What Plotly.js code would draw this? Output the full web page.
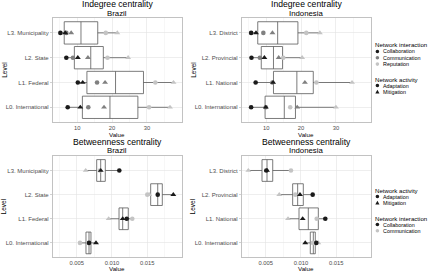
<!DOCTYPE html>
<html>
<head>
<meta charset="utf-8">
<script src="https://cdn.plot.ly/plotly-3.0.1.min.js"></script>
<style>
  html, body { margin: 0; padding: 0; background: #ffffff; }
  #chart { width: 434px; height: 271px; }
</style>
</head>
<body>
<div id="chart"></div>
<script>
// ---- Levels (bottom to top) ----
const levelsBrazil = ['L0. International', 'L1. Federal', 'L2. State', 'L3. Municipality'];
const levelsIndonesia = ['L0. International', 'L1. National', 'L2. Provincial', 'L3. District'];

// ---- Indegree centrality, Brazil (values per level L0..L3) ----
const inBR_collabAdapt = [7.3, 10.2, 6.9, 5.2];
const inBR_collabMitig = [10.9, 11.6, 10.2, 6.6];
const inBR_commAdapt   = [13.2, 15.7, 8.8, 6.9];
const inBR_commMitig   = [17.7, 18.0, 13.1, 8.3];
const inBR_repAdapt    = [30.6, 32.4, 18.7, 18.2];
const inBR_repMitig    = [36.6, 37.6, 24.6, 21.5];
const inBR_q1  = [11.5, 12.8, 9.2, 6.3];
const inBR_med = [19.4, 21.0, 13.9, 11.1];
const inBR_q3  = [27.4, 29.0, 17.5, 15.9];

// ---- Indegree centrality, Indonesia ----
const inID_collabAdapt = [5.7, 7.0, 5.8, 5.7];
const inID_collabMitig = [9.9, 12.0, 9.5, 7.1];
const inID_commAdapt   = [9.9, 11.8, 8.2, 9.2];
const inID_commMitig   = [18.9, 21.1, 13.6, 11.8];
const inID_repAdapt    = [16.9, 24.4, 14.9, 21.5];
const inID_repMitig    = [30.0, 34.6, 20.3, 25.4];
const inID_q1  = [9.7, 12.1, 8.6, 7.6];
const inID_med = [15.2, 18.8, 12.1, 13.3];
const inID_q3  = [18.4, 23.5, 14.7, 19.1];

// ---- Betweenness centrality, Brazil ----
const btBR_collabAdapt = [0.00675, 0.01210, 0.01650, 0.01105];
const btBR_collabMitig = [0.00774, 0.01153, 0.01871, 0.00841];
const btBR_commAdapt   = [0.00547, 0.01289, 0.01502, 0.00830];
const btBR_commMitig   = [0.00675, 0.00954, 0.01530, 0.00628];
const btBR_q1  = [0.00632, 0.01101, 0.01550, 0.00784];
const btBR_med = [0.00675, 0.01153, 0.01650, 0.00841];
const btBR_q3  = [0.00703, 0.01232, 0.01715, 0.00906];

// ---- Betweenness centrality, Indonesia ----
const btID_collabAdapt = [0.01218, 0.01346, 0.01167, 0.00509];
const btID_collabMitig = [0.01062, 0.01025, 0.00987, 0.00519];
const btID_commAdapt   = [0.01171, 0.01224, 0.00920, 0.00859];
const btID_commMitig   = [0.01247, 0.00817, 0.00693, 0.00254];
const btID_q1  = [0.01133, 0.00973, 0.00883, 0.00448];
const btID_med = [0.01176, 0.01105, 0.00954, 0.00519];
const btID_q3  = [0.01204, 0.01247, 0.01034, 0.00600];

// ---- Styling ----
const W = 434, H = 271;
const fx = p => p / W;          // pixel -> paper x
const fy = p => 1 - p / H;      // pixel -> paper y
const FONT = 'Liberation Sans, Arial, sans-serif';
const BLACK = '#1a1a1a', GREY = '#808080', LIGHT = '#c4c4c4';
const TICK = '#4d4d4d', BORDER = '#b3b3b3', GRID = '#e2e2e2', MINOR = '#f0f0f0';

// Plot areas in pixels: left, right, top, bottom, title line, subtitle line, axis-title line
const areas = [
  {l: 52.7, r: 181.7, t: 18, b: 122.2, ty: 4.5, sy: 13.3, vy: 134.3},
  {l: 241.7, r: 370.7, t: 18, b: 122.2, ty: 4.5, sy: 13.3, vy: 134.3},
  {l: 52.7, r: 181.7, t: 156, b: 257.4, ty: 141.8, sy: 150.2, vy: 268.6},
  {l: 241.7, r: 370.7, t: 156, b: 257.4, ty: 141.8, sy: 150.2, vy: 268.6}
];

const traces = [];
const layout = {
  width: W, height: H,
  margin: {l: 0, r: 0, t: 0, b: 0},
  paper_bgcolor: '#ffffff', plot_bgcolor: '#ffffff',
  showlegend: false,
  font: {family: FONT, color: '#000000'},
  annotations: [], shapes: []
};

// whisker ends span the plotted points of each level
function extent(seriesList, fn) {
  return seriesList[0].values.map((_, i) => fn(...seriesList.map(s => s.values[i])));
}

function panel(n, levels, series, q1, med, q3, xrange, dtick, fmt, title, subtitle) {
  const sfx = n === 1 ? '' : String(n);
  const xa = 'x' + sfx, ya = 'y' + sfx;
  const a = areas[n - 1];

  traces.push({
    type: 'box', orientation: 'h', y: levels,
    q1: q1, median: med, q3: q3,
    lowerfence: extent(series, Math.min),
    upperfence: extent(series, Math.max),
    width: 0.9, whiskerwidth: 0, boxpoints: false,
    fillcolor: '#ffffff', line: {color: '#595959', width: 0.8},
    xaxis: xa, yaxis: ya, hoverinfo: 'skip'
  });
  series.forEach(s => traces.push({
    type: 'scatter', mode: 'markers', x: s.values, y: levels,
    marker: {color: s.color, symbol: s.symbol, size: s.symbol === 'circle' ? 4.6 : 5.2, line: {width: 0}},
    xaxis: xa, yaxis: ya, name: s.name, hoverinfo: 'x+name'
  }));

  layout['xaxis' + sfx] = {
    domain: [fx(a.l), fx(a.r)], anchor: ya, range: xrange,
    tick0: 0, dtick: dtick, tickformat: fmt,
    tickfont: {size: 5.8, color: TICK, family: FONT},
    ticks: '', ticklabelstandoff: -1.5,
    showgrid: true, gridcolor: GRID, gridwidth: 0.6,
    minor: {dtick: dtick / 2, showgrid: true, gridcolor: MINOR, gridwidth: 0.5},
    zeroline: false, showline: true, mirror: true, linecolor: BORDER, linewidth: 0.8
  };
  layout['yaxis' + sfx] = {
    domain: [fy(a.b), fy(a.t)], anchor: xa, type: 'category',
    categoryorder: 'array', categoryarray: levels, range: [-0.6, 3.6],
    tickfont: {size: 6, color: TICK, family: FONT},
    ticks: 'outside', ticklen: 2, tickwidth: 0.6, tickcolor: BORDER,
    showgrid: true, gridcolor: GRID, gridwidth: 0.6,
    zeroline: false, showline: true, mirror: true, linecolor: BORDER, linewidth: 0.8
  };

  const cx = (a.l + a.r) / 2;
  layout.annotations.push(
    {text: title, x: fx(cx), y: fy(a.ty), xref: 'paper', yref: 'paper',
     xanchor: 'center', yanchor: 'middle', showarrow: false, font: {size: 8.6}},
    {text: subtitle, x: fx(cx), y: fy(a.sy), xref: 'paper', yref: 'paper',
     xanchor: 'center', yanchor: 'middle', showarrow: false, font: {size: 7.8}},
    {text: 'Value', x: fx(cx), y: fy(a.vy), xref: 'paper', yref: 'paper',
     xanchor: 'center', yanchor: 'middle', showarrow: false, font: {size: 6.2}},
    {text: 'Level', x: fx(a.l - 49), y: fy((a.t + a.b) / 2), xref: 'paper', yref: 'paper',
     xanchor: 'center', yanchor: 'middle', textangle: -90, showarrow: false, font: {size: 6.5}}
  );
}

const topSeries = (ca, cm, ka, km, ra, rm) => [
  {name: 'Reputation, Adaptation', color: LIGHT, symbol: 'circle', values: ra},
  {name: 'Reputation, Mitigation', color: LIGHT, symbol: 'triangle-up', values: rm},
  {name: 'Communication, Adaptation', color: GREY, symbol: 'circle', values: ka},
  {name: 'Communication, Mitigation', color: GREY, symbol: 'triangle-up', values: km},
  {name: 'Collaboration, Adaptation', color: BLACK, symbol: 'circle', values: ca},
  {name: 'Collaboration, Mitigation', color: BLACK, symbol: 'triangle-up', values: cm}
];
const bottomSeries = (ca, cm, ka, km) => [
  {name: 'Communication, Adaptation', color: LIGHT, symbol: 'circle', values: ka},
  {name: 'Communication, Mitigation', color: LIGHT, symbol: 'triangle-up', values: km},
  {name: 'Collaboration, Adaptation', color: BLACK, symbol: 'circle', values: ca},
  {name: 'Collaboration, Mitigation', color: BLACK, symbol: 'triangle-up', values: cm}
];

panel(1, levelsBrazil,
  topSeries(inBR_collabAdapt, inBR_collabMitig, inBR_commAdapt, inBR_commMitig, inBR_repAdapt, inBR_repMitig),
  inBR_q1, inBR_med, inBR_q3, [3, 39.95], 10, 'd', 'Indegree centrality', 'Brazil');
panel(2, levelsIndonesia,
  topSeries(inID_collabAdapt, inID_collabMitig, inID_commAdapt, inID_commMitig, inID_repAdapt, inID_repMitig),
  inID_q1, inID_med, inID_q3, [3, 39.95], 10, 'd', 'Indegree centrality', 'Indonesia');
panel(3, levelsBrazil,
  bottomSeries(btBR_collabAdapt, btBR_collabMitig, btBR_commAdapt, btBR_commMitig),
  btBR_q1, btBR_med, btBR_q3, [0.0016, 0.0199], 0.005, '.3f', 'Betweenness centrality', 'Brazil');
panel(4, levelsIndonesia,
  bottomSeries(btID_collabAdapt, btID_collabMitig, btID_commAdapt, btID_commMitig),
  btID_q1, btID_med, btID_q3, [0.0016, 0.0199], 0.005, '.3f', 'Betweenness centrality', 'Indonesia');

// ---- Legend blocks ----
const keyX = 377.4, labelX = 380.6;
function legendTitle(text, py) {
  layout.annotations.push({text: text, x: fx(373.2), y: fy(py), xref: 'paper', yref: 'paper',
    xanchor: 'left', yanchor: 'middle', showarrow: false, font: {size: 6.1}});
}
function legendItem(text, py, color, symbol) {
  layout.annotations.push({text: text, x: fx(labelX), y: fy(py), xref: 'paper', yref: 'paper',
    xanchor: 'left', yanchor: 'middle', showarrow: false, font: {size: 5.4}});
  const base = {xref: 'paper', yref: 'paper', xsizemode: 'pixel', ysizemode: 'pixel',
    xanchor: fx(keyX), yanchor: fy(py), fillcolor: color, line: {width: 0}, layer: 'above'};
  if (symbol === 'circle') {
    layout.shapes.push(Object.assign({type: 'circle', x0: -1.8, x1: 1.8, y0: -1.8, y1: 1.8}, base));
  } else {
    layout.shapes.push(Object.assign({type: 'path', path: 'M-2.1,-1.7 L2.1,-1.7 L0,2.0 Z'}, base));
  }
}

legendTitle('Network interaction', 45);
legendItem('Collaboration', 51.5, BLACK, 'circle');
legendItem('Communication', 57.8, GREY, 'circle');
legendItem('Reputation', 64.1, LIGHT, 'circle');
legendTitle('Network activity', 79);
legendItem('Adaptation', 85.5, BLACK, 'circle');
legendItem('Mitigation', 91.8, BLACK, 'triangle');

legendTitle('Network activity', 190);
legendItem('Adaptation', 196.5, BLACK, 'circle');
legendItem('Mitigation', 202.8, BLACK, 'triangle');
legendTitle('Network interaction', 218);
legendItem('Collaboration', 224.5, BLACK, 'circle');
legendItem('Communication', 230.8, LIGHT, 'circle');

Plotly.newPlot('chart', traces, layout, {staticPlot: true, displayModeBar: false});
</script>
</body>
</html>
